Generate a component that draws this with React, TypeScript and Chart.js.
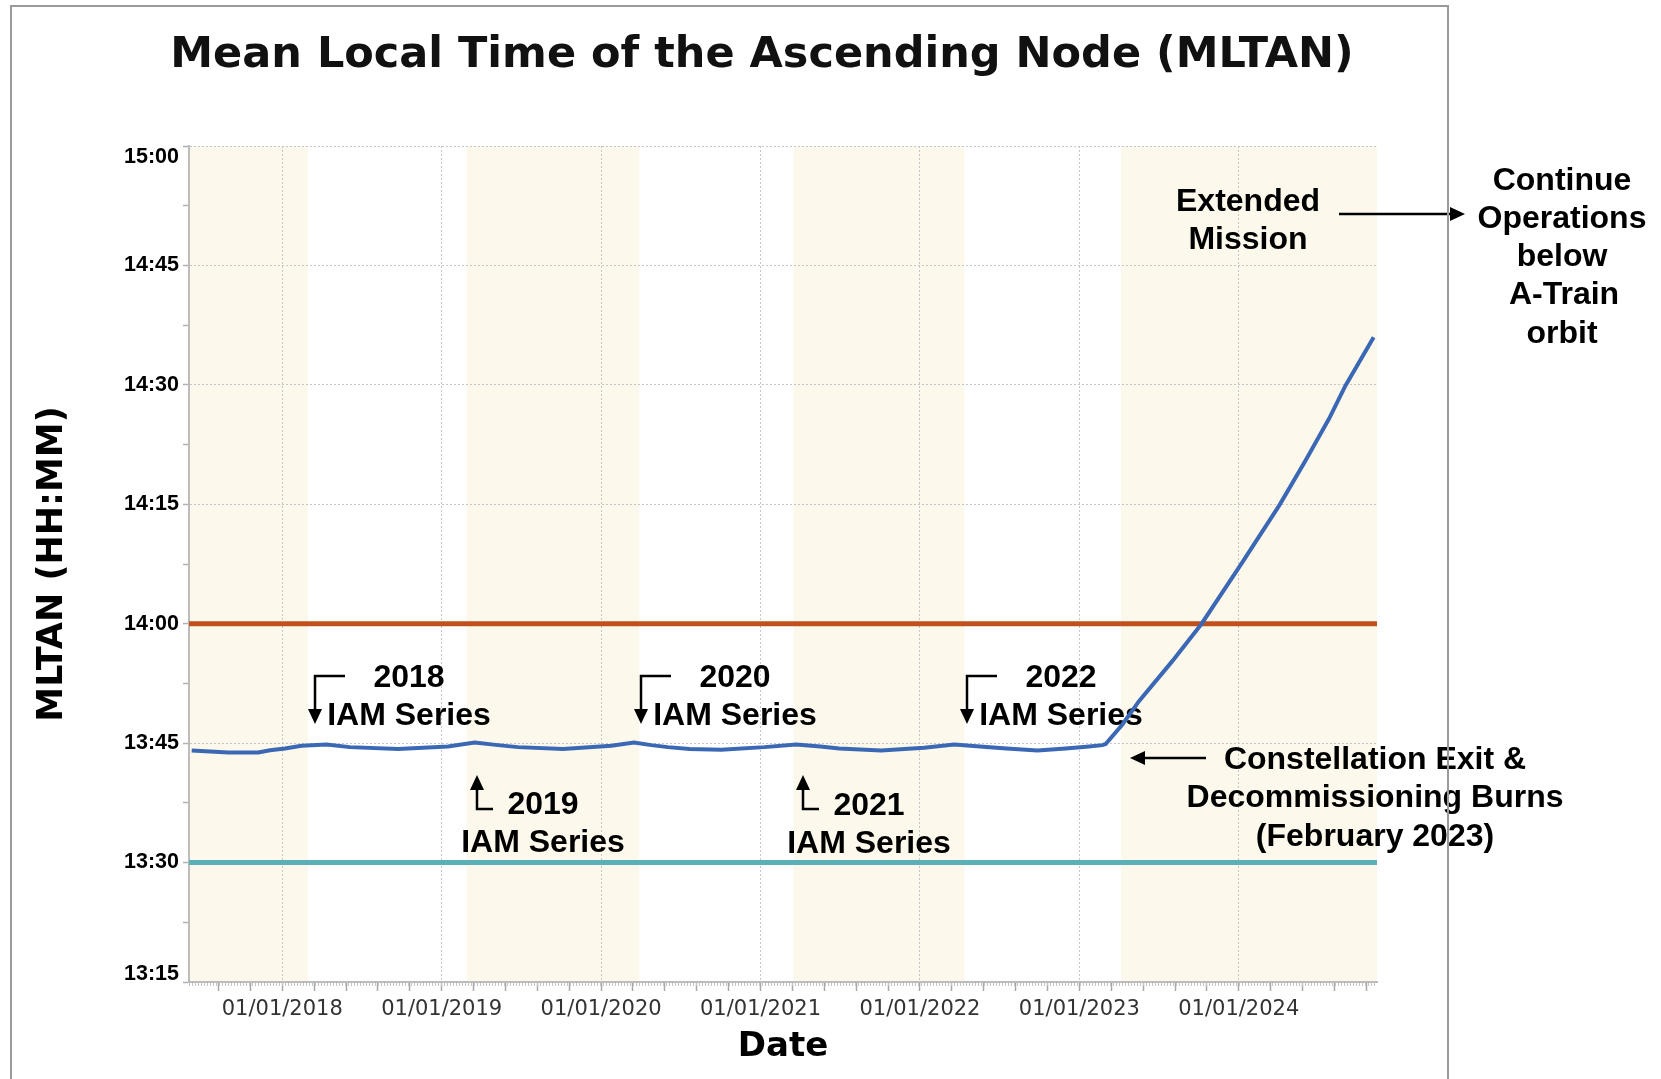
import React, { useEffect, useRef } from "react";
import { Chart, registerables } from "chart.js";

Chart.register(...registerables);

// ---------- data (x = decimal year, y = minutes since midnight) ----------
const mltanYears = [
  2017.432, 2017.662, 2017.85, 2017.923, 2018.017, 2018.122, 2018.278, 2018.424,
  2018.727, 2019.04, 2019.207, 2019.353, 2019.479, 2019.761, 2020.064, 2020.206,
  2020.315, 2020.419, 2020.555, 2020.753, 2021.024, 2021.223, 2021.375, 2021.494,
  2021.756, 2022.027, 2022.215, 2022.376, 2022.543, 2022.737, 2022.915, 2023.061,
  2023.144, 2023.165, 2023.27, 2023.374, 2023.583, 2023.767, 2024.021, 2024.256,
  2024.418, 2024.565, 2024.669, 2024.846,
];
const mltanMinutes = [
  824.08, 823.83, 823.83, 824.1, 824.33, 824.67, 824.84, 824.5,
  824.25, 824.58, 825.09, 824.75, 824.5, 824.25, 824.67, 825.09,
  824.75, 824.5, 824.25, 824.17, 824.5, 824.84, 824.58, 824.33,
  824.08, 824.42, 824.84, 824.58, 824.33, 824.08, 824.33, 824.58,
  824.75, 824.9, 827.35, 830.28, 835.3, 840.0, 847.67, 854.93,
  860.47, 865.7, 869.9, 875.97,
];
const upperLimitMinutes = 840; // 14:00
const lowerLimitMinutes = 810; // 13:30
const axisStartYear = 2017.415;
const axisEndYear = 2024.867;
const yMinMinutes = 795; // 13:15
const yMaxMinutes = 900; // 15:00
const yStepMinutes = 7.5;
const yLabelStepMinutes = 15;
const bandStartYears = [2017.415, 2019.157, 2021.207, 2023.26];
const bandEndYears = [2018.16, 2020.24, 2022.28, 2024.867];
const xTickValues: number[] = [];
for (let t = 20176; t <= 20248; t += 2) xTickValues.push(t / 10);

const titleText = "Mean Local Time of the Ascending Node (MLTAN)";
const xTitle = "Date";
const yTitle = "MLTAN (HH:MM)";

// ---------- annotations (layout only) ----------
const annoFont = 'bold 32px "Liberation Sans", Arial, sans-serif';
const yTickFont = 'bold 21.5px "Liberation Sans", Arial, sans-serif';
const annoTexts = [
  { t: "2018", x: 409, y: 678 },
  { t: "IAM Series", x: 409, y: 716 },
  { t: "2020", x: 735, y: 678 },
  { t: "IAM Series", x: 735, y: 716 },
  { t: "2022", x: 1061, y: 678 },
  { t: "IAM Series", x: 1061, y: 716 },
  { t: "2019", x: 543, y: 805 },
  { t: "IAM Series", x: 543, y: 843 },
  { t: "2021", x: 869, y: 806 },
  { t: "IAM Series", x: 869, y: 844 },
  { t: "Extended", x: 1248, y: 202 },
  { t: "Mission", x: 1248, y: 240 },
  { t: "Continue", x: 1562, y: 181 },
  { t: "Operations", x: 1562, y: 219 },
  { t: "below", x: 1562, y: 257 },
  { t: "A-Train", x: 1564, y: 295 },
  { t: "orbit", x: 1562, y: 334 },
  { t: "Constellation Exit &", x: 1375, y: 760 },
  { t: "Decommissioning Burns", x: 1375, y: 798 },
  { t: "(February 2023)", x: 1375, y: 837 },
];
const annoArrows: number[][][] = [
  [[345, 676], [315, 676], [315, 724]],
  [[671, 676], [641, 676], [641, 724]],
  [[997, 676], [967, 676], [967, 724]],
  [[493, 809], [477, 809], [477, 775]],
  [[819, 809], [803, 809], [803, 775]],
  [[1339, 214], [1465, 214]],
  [[1206, 758], [1130, 758]],
];

function fmtTime(v: number) {
  const h = Math.floor(v / 60);
  const m = Math.round(v - h * 60);
  return `${h}:${m < 10 ? "0" : ""}${m}`;
}
const isYear = (v: number) => Math.abs(v - Math.round(v)) < 1e-6;

function drawArrow(ctx: CanvasRenderingContext2D, pts: number[][], head = 15, half = 7) {
  const n = pts.length;
  const [tx, ty] = pts[n - 1];
  const [px, py] = pts[n - 2];
  const ang = Math.atan2(ty - py, tx - px);
  const bx = tx - head * Math.cos(ang);
  const by = ty - head * Math.sin(ang);
  ctx.beginPath();
  ctx.moveTo(pts[0][0], pts[0][1]);
  for (let i = 1; i < n - 1; i++) ctx.lineTo(pts[i][0], pts[i][1]);
  ctx.lineTo(bx, by);
  ctx.stroke();
  ctx.beginPath();
  ctx.moveTo(tx, ty);
  ctx.lineTo(bx + half * Math.sin(ang), by - half * Math.cos(ang));
  ctx.lineTo(bx - half * Math.sin(ang), by + half * Math.cos(ang));
  ctx.closePath();
  ctx.fill();
}

const decorPlugin = {
  id: "decor",
  beforeDraw(chart: any) {
    const { ctx, chartArea, scales } = chart;
    const xs = scales.x;
    ctx.save();
    ctx.fillStyle = "#FDF8EC";
    for (let i = 0; i < bandStartYears.length; i++) {
      const x1 = xs.getPixelForValue(bandStartYears[i]);
      const x2 = xs.getPixelForValue(bandEndYears[i]);
      ctx.fillRect(x1, chartArea.top, x2 - x1, chartArea.bottom - chartArea.top);
    }
    ctx.restore();
  },
  beforeDatasetsDraw(chart: any) {
    const { ctx, chartArea, scales } = chart;
    ctx.save();
    // fine hatch under the x axis
    ctx.strokeStyle = "#c4c4c4";
    ctx.lineWidth = 3;
    ctx.setLineDash([1, 2]);
    ctx.beginPath();
    ctx.moveTo(chartArea.left, chartArea.bottom + 2.5);
    ctx.lineTo(chartArea.right, chartArea.bottom + 2.5);
    ctx.stroke();
    ctx.setLineDash([]);
    // end labels of the y axis (shifted inward as in the original)
    const ys = scales.y;
    ctx.fillStyle = "#000";
    ctx.font = yTickFont;
    ctx.textAlign = "right";
    ctx.textBaseline = "middle";
    ctx.fillText(fmtTime(yMaxMinutes), chartArea.left - 10, ys.getPixelForValue(yMaxMinutes) + 11);
    ctx.fillText(fmtTime(yMinMinutes), chartArea.left - 10, ys.getPixelForValue(yMinMinutes) - 8);
    // annotation text
    ctx.fillStyle = "#000";
    ctx.strokeStyle = "#000";
    ctx.font = annoFont;
    ctx.textAlign = "center";
    ctx.textBaseline = "middle";
    for (const a of annoTexts) ctx.fillText(a.t, a.x, a.y);
    ctx.lineWidth = 2.5;
    for (const p of annoArrows) drawArrow(ctx, p);
    ctx.restore();
  },
  afterDraw(chart: any) {
    const { ctx } = chart;
    ctx.save();
    ctx.fillStyle = "#111";
    ctx.font = 'bold 43px "DejaVu Sans", Verdana, sans-serif';
    ctx.textAlign = "center";
    ctx.textBaseline = "middle";
    ctx.fillText(titleText, 762, 56);
    ctx.restore();
  },
};

export default function App() {
  const ref = useRef<HTMLCanvasElement>(null);
  useEffect(() => {
    const canvas = ref.current;
    if (!canvas) return;
    const chart = new Chart(canvas, {
      type: "line",
      data: {
        datasets: [
          {
            data: mltanYears.map((x, i) => ({ x, y: mltanMinutes[i] })),
            borderColor: "#3A68B4",
            borderWidth: 4,
            pointRadius: 0,
            tension: 0,
          },
          {
            data: [
              { x: axisStartYear, y: upperLimitMinutes },
              { x: axisEndYear, y: upperLimitMinutes },
            ],
            borderColor: "#C0501C",
            borderWidth: 5,
            pointRadius: 0,
          },
          {
            data: [
              { x: axisStartYear, y: lowerLimitMinutes },
              { x: axisEndYear, y: lowerLimitMinutes },
            ],
            borderColor: "#5AB0B6",
            borderWidth: 5,
            pointRadius: 0,
          },
        ],
      },
      options: {
        responsive: false,
        animation: false,
        events: [],
        layout: { padding: { left: 0, right: 284, top: 146, bottom: 0 } },
        plugins: {
          legend: { display: false },
          tooltip: { enabled: false },
          title: { display: false },
        },
        scales: {
          x: {
            type: "linear",
            min: axisStartYear,
            max: axisEndYear,
            afterBuildTicks: (s: any) => {
              s.ticks = xTickValues.map((v) => ({ value: v }));
            },
            afterFit: (s: any) => {
              s.height = 97;
            },
            ticks: {
              autoSkip: false,
              maxRotation: 0,
              minRotation: 0,
              padding: 6,
              color: "#333",
              font: { family: '"DejaVu Sans", Verdana, sans-serif', size: 21 },
              callback: (v: any) => (isYear(Number(v)) ? `01/01/${Math.round(Number(v))}` : ""),
            },
            grid: {
              color: (c: any) => (c.tick && isYear(c.tick.value) ? "#c6c6c6" : "rgba(0,0,0,0)"),
              lineWidth: 1,
              tickColor: "#a8a8a8",
              tickLength: 9,
              tickWidth: 1.5,
              tickBorderDash: [],
            },
            border: { display: true, color: "#bcbcbc", width: 2, dash: [2, 2] },
            title: {
              display: true,
              text: xTitle,
              color: "#000",
              font: { family: '"DejaVu Sans", Verdana, sans-serif', size: 34, weight: "bold" },
              padding: { top: 0, bottom: 11 },
            },
          },
          y: {
            type: "linear",
            min: yMinMinutes,
            max: yMaxMinutes,
            afterFit: (s: any) => {
              s.width = 189;
            },
            ticks: {
              stepSize: yStepMinutes,
              autoSkip: false,
              padding: 4,
              color: "#000",
              font: { family: '"Liberation Sans", Arial, sans-serif', size: 21.5, weight: "bold" },
              callback: (v: any) => {
                const n = Number(v);
                if (n === yMinMinutes || n === yMaxMinutes) return "";
                return n % yLabelStepMinutes === 0 ? fmtTime(n) : "";
              },
            },
            grid: {
              color: (c: any) =>
                c.tick && c.tick.value % yLabelStepMinutes === 0 ? "#c6c6c6" : "rgba(0,0,0,0)",
              lineWidth: 1,
              tickColor: "#b0b0b0",
              tickLength: 6,
              tickWidth: 1.5,
              tickBorderDash: [],
            },
            border: { display: true, color: "#bcbcbc", width: 2, dash: [2, 2] },
            title: {
              display: true,
              text: yTitle,
              color: "#000",
              font: { family: '"DejaVu Sans", Verdana, sans-serif', size: 35, weight: "bold" },
              padding: { top: 32, bottom: 0 },
            },
          },
        },
      },
      plugins: [decorPlugin],
    } as any);
    return () => chart.destroy();
  }, []);

  return (
    <div
      style={{
        position: "absolute",
        left: 0,
        top: 0,
        width: 1661,
        height: 1079,
        background: "#fff",
        overflow: "hidden",
      }}
    >
      <canvas ref={ref} width={1661} height={1079} style={{ display: "block" }} />
      <div
        style={{
          position: "absolute",
          left: 10,
          top: 5,
          width: 1435,
          height: 1200,
          border: "2px solid #9a9a9a",
          pointerEvents: "none",
        }}
      />
    </div>
  );
}
